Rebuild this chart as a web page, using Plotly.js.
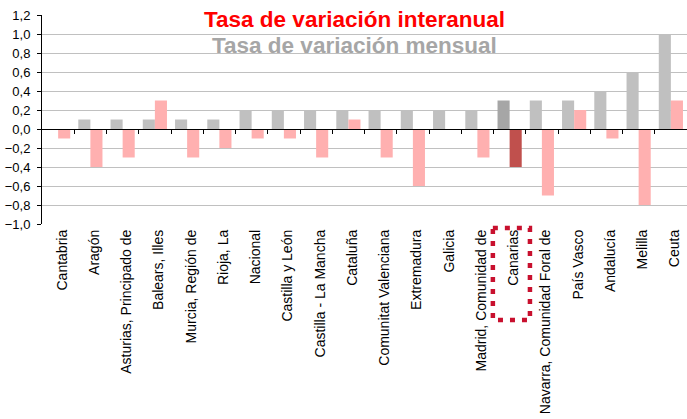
<!DOCTYPE html>
<html>
<head>
<meta charset="utf-8">
<script src="https://cdn.plot.ly/plotly-3.0.1.min.js"></script>
<style>html,body{margin:0;padding:0;background:#fff;}#chart{width:687px;height:419px;}</style>
</head>
<body>
<div id="chart"></div>
<script>
var categories = ["Cantabria","Aragón","Asturias, Principado de","Balears, Illes","Murcia, Región de","Rioja, La","Nacional","Castilla y León","Castilla - La Mancha","Cataluña","Comunitat Valenciana","Extremadura","Galicia","Madrid, Comunidad de","Canarias","Navarra, Comunidad Foral de","País Vasco","Andalucía","Melilla","Ceuta"];
var mensual =    [0.0,0.1,0.1,0.1,0.1,0.1,0.2,0.2,0.2,0.2,0.2,0.2,0.2,0.2,0.3,0.3,0.3,0.4,0.6,1.0];
var interanual = [-0.1,-0.4,-0.3,0.3,-0.3,-0.2,-0.1,-0.1,-0.3,0.1,-0.3,-0.6,0.0,-0.3,-0.4,-0.7,0.2,-0.1,-0.8,0.3];
var highlight = "Canarias";

var grayColors = categories.map(function(c){return c===highlight ? '#A6A6A6' : '#C0C0C0';});
var pinkColors = categories.map(function(c){return c===highlight ? '#C0504D' : '#FFB0B0';});
var hiIdx = categories.indexOf(highlight);

var boundaries = [];
for (var i = 0; i < categories.length - 1; i++) boundaries.push(i + 0.5);

var FONT = 'Liberation Sans, Arial, sans-serif';

var data = [
  {type:'bar', name:'Tasa de variación mensual', x:categories, y:mensual, marker:{color:grayColors}, hoverinfo:'x+y'},
  {type:'bar', name:'Tasa de variación interanual', x:categories, y:interanual, marker:{color:pinkColors}, hoverinfo:'x+y'},
  {type:'scatter', x:[0], y:[null], xaxis:'x2', yaxis:'y', showlegend:false, hoverinfo:'skip', mode:'markers'}
];

var yMin = -1.0, yMax = 1.2;

var layout = {
  width:687, height:419,
  margin:{l:42, r:0, t:15, b:195},
  paper_bgcolor:'#fff', plot_bgcolor:'#fff',
  separators:',.',
  showlegend:false,
  barmode:'group', bargap:0.25, bargroupgap:0,
  font:{family:FONT, size:12, color:'#000'},
  xaxis:{
    type:'category', categoryorder:'array', categoryarray:categories,
    range:[-0.5, categories.length - 0.5],
    tickangle:-90, ticks:'', showline:false, showgrid:false, zeroline:false,
    ticklabelshift:4, ticklabelstandoff:2,
    tickfont:{family:FONT, size:14, color:'#000'}
  },
  xaxis2:{
    overlaying:'x', anchor:'free', position:(0 - yMin)/(yMax - yMin),
    range:[-0.5, categories.length - 0.5],
    tickmode:'array', tickvals:boundaries, ticktext:boundaries.map(function(){return '';}),
    ticks:'outside', ticklen:4, tickcolor:'#000', tickwidth:1,
    showline:true, linecolor:'#000', linewidth:1, showgrid:false, zeroline:false, showticklabels:false
  },
  yaxis:{
    range:[yMin, yMax], dtick:0.2, tick0:0, tickformat:'.1f',
    showline:true, linecolor:'#000', linewidth:1,
    ticks:'outside', ticklen:4, tickcolor:'#000',
    gridcolor:'#C0C0C0', gridwidth:1, zeroline:false,
    ticklabelstandoff:4,
    tickfont:{family:FONT, size:13, color:'#000'}
  },
  annotations:[
    {xref:'paper', yref:'paper', x:0.485, y:0.978, xanchor:'center', yanchor:'middle', showarrow:false,
     text:'<b>Tasa de variación interanual</b>', font:{family:FONT, size:22.5, color:'#FF0000'}},
    {xref:'paper', yref:'paper', x:0.485, y:0.856, xanchor:'center', yanchor:'middle', showarrow:false,
     text:'<b>Tasa de variación mensual</b>', font:{family:FONT, size:22.5, color:'#A6A6A6'}}
  ],
  shapes:[
    {type:'rect', xref:'x', yref:'paper', x0:hiIdx - 0.52, x1:hiIdx + 0.63, y0:-0.019, y1:-0.459,
     line:{color:'#C8102E', width:4.5, dash:'5px,7px'}, fillcolor:'rgba(0,0,0,0)'}
  ]
};

Plotly.newPlot('chart', data, layout, {displayModeBar:false, staticPlot:true});
</script>
</body>
</html>
